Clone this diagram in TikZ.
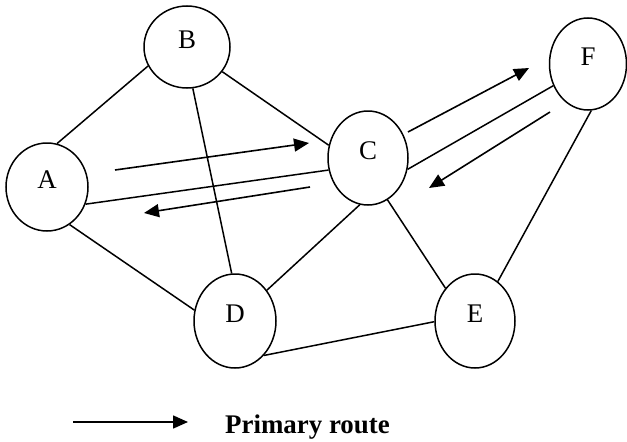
\documentclass[tikz,border=0pt]{standalone}
\usepackage{fontspec}
\setmainfont{Liberation Serif}
\usetikzlibrary{shapes.geometric,arrows.meta}

\tikzset{
  station/.style={draw,ellipse,line width=1.5bp,inner sep=0pt,text depth=14bp,font=\fontsize{27}{30}\selectfont},
  link/.style={line width=1.5bp},
  route/.style={-{Triangle[length=15bp,width=13bp]},line width=1.6bp},
}

\begin{document}
\begin{tikzpicture}
\useasboundingbox (0bp,0bp) rectangle (627bp,-442bp);

\node (A) at (47bp,-187bp)[station,minimum width=82bp,minimum height=88bp] {A};
\node (B) at (187bp,-47bp)[station,minimum width=86bp,minimum height=82bp] {B};
\node (C) at (368bp,-158bp)[station,minimum width=80bp,minimum height=94bp] {C};
\node (D) at (235bp,-321bp)[station,minimum width=82bp,minimum height=94bp] {D};
\node (E) at (475bp,-321bp)[station,minimum width=80bp,minimum height=94bp] {E};
\node (F) at (588bp,-64bp)[station,minimum width=77bp,minimum height=92bp] {F};

\draw [link] (A.77) -- (B.206);
\draw [link] (B.-35) -- (C.162);
\draw [link] (B.-82) -- (D.94);
\draw [link] (A.-24) -- (C.197);
\draw [link] (A.-59) -- (D.165);
\draw [link] (C.260) -- (D.44);
\draw [link] (C.-65) -- (E.132);
\draw [link] (C.-16) -- (F.212);
\draw [link] (F.-86) -- (E.60);
\draw [link] (D.-50) -- (E.181);

% primary route
\coordinate (ac1) at (115bp,-170bp);
\coordinate (ac2) at (309bp,-143bp);
\coordinate (ca1) at (310bp,-187bp);
\coordinate (ca2) at (144bp,-213bp);
\coordinate (cf1) at (408bp,-132bp);
\coordinate (cf2) at (529bp,-68bp);
\coordinate (fc1) at (550bp,-112bp);
\coordinate (fc2) at (429bp,-188bp);
\draw [route] (ac1) -- (ac2);
\draw [route] (ca1) -- (ca2);
\draw [route] (cf1) -- (cf2);
\draw [route] (fc1) -- (fc2);

% legend
\coordinate (key1) at (73bp,-422bp);
\coordinate (key2) at (188bp,-422bp);
\draw [route] (key1) -- (key2);
\node (keytext) at (225bp,-433bp)[anchor=base west,inner sep=0pt,font=\fontsize{27}{30}\selectfont\bfseries] {Primary route};
\end{tikzpicture}
\end{document}
